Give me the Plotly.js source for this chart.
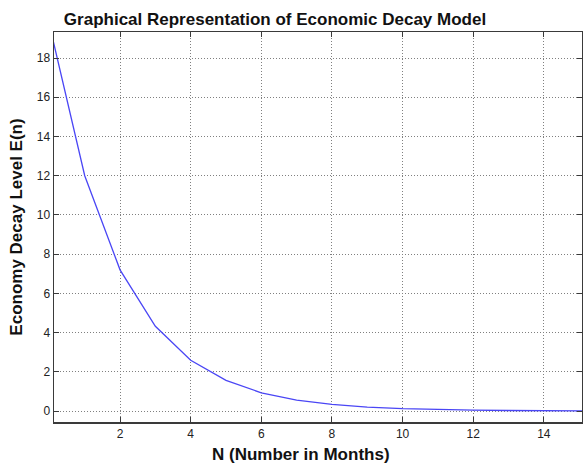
<!DOCTYPE html>
<html>
<head>
<meta charset="utf-8">
<script src="https://cdn.plot.ly/plotly-3.0.1.min.js"></script>
<style>html,body{margin:0;padding:0;background:#fff;}#chart{width:583px;height:466px;}</style>
</head>
<body>
<div id="chart"></div>
<script>
const months = [0, 1, 2, 3, 4, 5, 6, 7, 8, 9, 10, 11, 12, 13, 14, 15, 16];
const decayLevel = [19.7, 12, 7.2, 4.32, 2.59, 1.56, 0.93, 0.56, 0.34, 0.20, 0.12, 0.073, 0.044, 0.026, 0.016, 0.0094, 0.0056];
const xTicks = [2, 4, 6, 8, 10, 12, 14];
const yTicks = [0, 2, 4, 6, 8, 10, 12, 14, 16, 18];

const font = 'Liberation Sans, Arial, Helvetica, sans-serif';
const axisCommon = {
  showline: true, mirror: 'ticks', linecolor: '#3a3a3a', linewidth: 1.5,
  ticks: 'inside', ticklen: 5, tickwidth: 1, tickcolor: '#3a3a3a',
  showgrid: true, gridcolor: '#808080', griddash: '1px,2px', gridwidth: 1,
  zeroline: false, tickfont: {family: font, size: 12, color: '#222'}
};

Plotly.newPlot('chart', [{
  x: months, y: decayLevel, type: 'scatter', mode: 'lines',
  line: {color: '#4a46f5', width: 1.3}, hoverinfo: 'skip'
}], {
  width: 583, height: 466,
  margin: {l: 54, r: 1, t: 32, b: 44},
  paper_bgcolor: '#fff', plot_bgcolor: '#fff',
  showlegend: false,
  title: {text: 'Graphical Representation of Economic Decay Model',
    font: {family: font, size: 17, color: '#111', weight: 'bold'},
    x: (275 - 54) / 528, xanchor: 'center', xref: 'paper', y: 1 - 19 / 466, yanchor: 'middle'},
  xaxis: Object.assign({}, axisCommon, {
    range: [0.13, 15.08], tickvals: xTicks, ticktext: xTicks.map(String),
    title: {text: ''}
  }),
  yaxis: Object.assign({}, axisCommon, {
    range: [-0.56, 19.33], tickvals: yTicks, ticktext: yTicks.map(String),
    title: {text: 'Economy Decay Level E(n)', font: {family: font, size: 17, color: '#111', weight: 'bold'}, standoff: 10}
  }),
  annotations: [{
    text: 'N (Number in Months)', xref: 'paper', yref: 'paper',
    x: (301 - 54) / 528, y: -(455 - 422) / 390.3, xanchor: 'center', yanchor: 'middle',
    showarrow: false, font: {family: font, size: 17, color: '#111', weight: 'bold'}
  }]
}, {staticPlot: true});
</script>
</body>
</html>
